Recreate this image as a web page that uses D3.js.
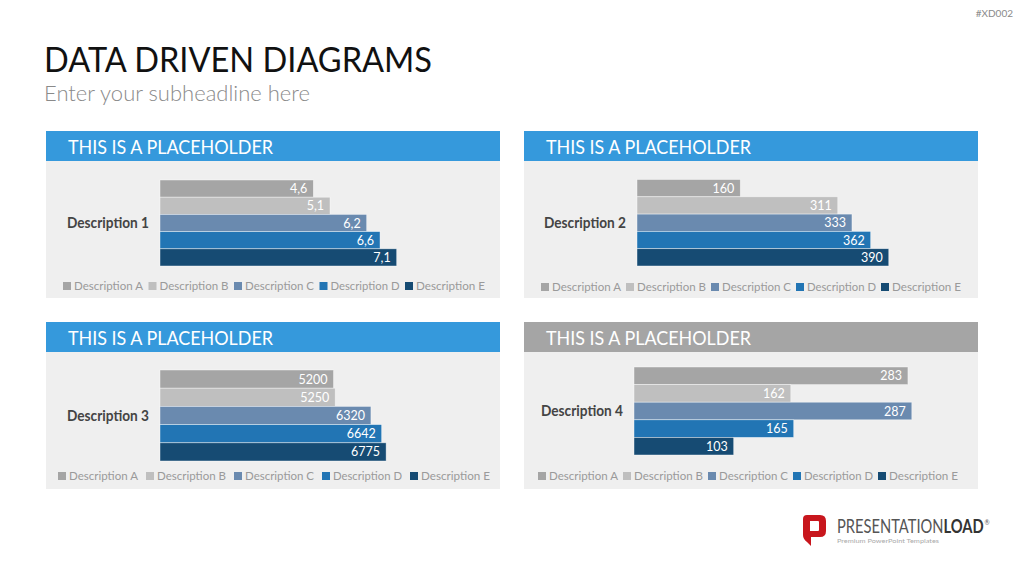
<!DOCTYPE html>
<html>
<head>
<meta charset="utf-8">
<script src="https://cdn.jsdelivr.net/npm/d3@7"></script>
<style>
  body { margin:0; background:#fff; }
  svg { display:block; font-family: Lato, "Open Sans", sans-serif; }
</style>
</head>
<body>
<div id="chart"></div>
<script>
// series / categories
var seriesNames = ["Description A","Description B","Description C","Description D","Description E"]
var seriesColors = ["#a5a5a5","#bfbfbf","#6a8aaf","#2275b4","#164b73"]
var categories = ["Description 1","Description 2","Description 3","Description 4"]
var values1 = [4.6,5.1,6.2,6.6,7.1]
var values2 = [160,311,333,362,390]
var values3 = [5200,5250,6320,6642,6775]
var values4 = [283,162,287,165,103]
var axisMax = [8,450,8000,300]

var W = 1024, H = 576
var svg = d3.select("#chart").append("svg").attr("width",W).attr("height",H)

var commaFmt = d3.formatLocale({decimal:",",thousands:".",grouping:[3],currency:["","€"]}).format(".1f")
var intFmt = d3.format("d")

// panel layout
var panels = [
  {x:46, y:131, w:454, h:167, head:"#3599dc", values:values1, fmt:commaFmt, barX:114, barW:266.7, band:[49,135], legX:17, legY:155, legStep:85.5},
  {x:524,y:131, w:454, h:167, head:"#3599dc", values:values2, fmt:intFmt, barX:113, barW:290.5, band:[48.5,135], legX:17, legY:156, legStep:85},
  {x:46, y:322, w:454, h:167, head:"#3599dc", values:values3, fmt:intFmt, barX:114, barW:267, band:[48,139], legX:12, legY:154, legStep:88},
  {x:524,y:322, w:454, h:167, head:"#a5a5a5", values:values4, fmt:intFmt, barX:110, barW:290.4, band:[45,133], legX:14, legY:154, legStep:85}
]

// titles
svg.append("text").attr("x",44).attr("y",72).text("DATA DRIVEN DIAGRAMS")
  .attr("textLength",388).attr("lengthAdjust","spacingAndGlyphs")
  .style("font-size","34px").style("fill","#111")
svg.append("text").attr("x",44).attr("y",101).text("Enter your subheadline here")
  .attr("textLength",266).attr("lengthAdjust","spacingAndGlyphs")
  .style("font-size","22px").style("fill","#8a8a8a").style("font-weight",300)
svg.append("text").attr("x",1013).attr("y",17).attr("text-anchor","end").text("#XD002")
  .style("font-size","10px").style("fill","#8a8a8a")

panels.forEach(function(p,i){
  var g = svg.append("g").attr("transform","translate("+p.x+","+p.y+")")
  g.append("rect").attr("width",p.w).attr("height",p.h).attr("fill","#efefef")
  g.append("rect").attr("width",p.w).attr("height",30).attr("fill",p.head)
  g.append("text").attr("x",22).attr("y",23).text("THIS IS A PLACEHOLDER")
    .attr("textLength",205).attr("lengthAdjust","spacingAndGlyphs")
    .style("font-size","20px").style("fill","#fff")

  var xScale = d3.scaleLinear().domain([0,axisMax[i]]).range([0,p.barW])
  var yScale = d3.scaleBand().domain(seriesNames).range(p.band).padding(0)

  var bars = g.append("g").attr("transform","translate("+p.barX+",0)")
  bars.selectAll("rect").data(p.values).enter().append("rect")
    .attr("x",0)
    .attr("y",(d,j)=>yScale(seriesNames[j]))
    .attr("width",d=>xScale(d))
    .attr("height",yScale.bandwidth())
    .attr("fill",(d,j)=>seriesColors[j])
    .attr("stroke","#ffffff").attr("stroke-opacity",0.6).attr("stroke-width",0.7)
  bars.selectAll("text").data(p.values).enter().append("text")
    .attr("x",d=>xScale(d)-6)
    .attr("y",(d,j)=>yScale(seriesNames[j])+yScale.bandwidth()/2)
    .attr("dy","0.36em").attr("text-anchor","end")
    .text(d=>p.fmt(d))
    .style("font-size","12.5px").style("fill","#fff")

  g.append("text").attr("x",p.barX-11).attr("y",(p.band[0]+p.band[1])/2)
    .attr("dy","0.36em").attr("text-anchor","end").text(categories[i])
    .attr("textLength",82).attr("lengthAdjust","spacingAndGlyphs")
    .style("font-size","14.5px").style("font-weight","bold").style("fill","#444")

  var leg = g.selectAll("g.leg").data(seriesNames).enter().append("g").classed("leg",true)
    .attr("transform",(d,j)=>"translate("+(p.legX+j*p.legStep)+","+p.legY+")")
  leg.append("rect").attr("x",0).attr("y",-4).attr("width",8).attr("height",8)
    .attr("fill",(d,j)=>seriesColors[j])
  leg.append("text").attr("x",11).attr("dy","0.36em").text(d=>d)
    .attr("textLength",69).attr("lengthAdjust","spacingAndGlyphs")
    .style("font-size","12px").style("fill","#9a9a9a")
})

// logo
var logo = svg.append("g").attr("transform","translate(803,515)")
logo.append("path")
  .attr("d","M0,4 Q0,0 4,0 L17,0 Q23,0 23,6 L23,16 Q23,22 17,22 L8,22 L8,31 L4,27 Q0,24 0,20 Z M7,6 L7,16 L15,16 Q16,16 16,15 L16,7 Q16,6 15,6 Z")
  .attr("fill","#c8161d").attr("fill-rule","evenodd")
var brand = logo.append("text").style("font-size","19px")
brand.append("tspan").text("PRESENTATION").style("fill","#555")
brand.append("tspan").text("LOAD").style("fill","#333").style("font-weight","bold")
brand.append("tspan").text("®").attr("dx",1).attr("dy",-8).style("font-size","8px").style("fill","#555")
var brandLen = brand.node().getComputedTextLength()
brand.attr("transform","translate(34,18) scale("+(152/brandLen)+",1)")
logo.append("text").attr("x",34).attr("y",28).text("Premium PowerPoint Templates")
  .attr("textLength",102).attr("lengthAdjust","spacingAndGlyphs")
  .style("font-size","6.5px").style("fill","#aaa")
</script>
</body>
</html>
